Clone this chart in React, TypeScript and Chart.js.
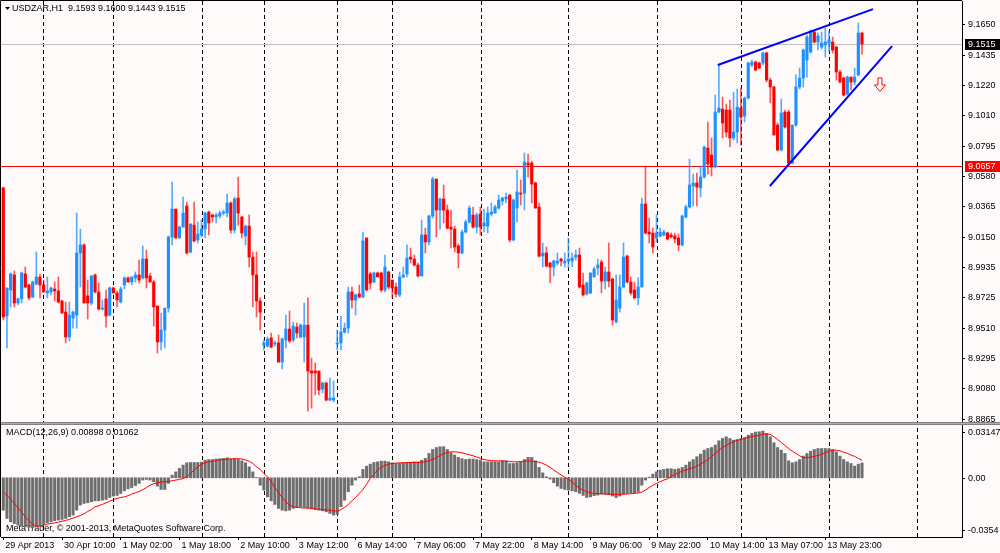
import React, { useEffect, useRef } from 'react'
import { Chart, registerables } from 'chart.js'

Chart.register(...registerables)

// H1 candles, USDZAR 29 Apr - 14 May 2013
const opens = [
  9.0499, 8.9595, 8.9779, 8.9885, 8.9687, 8.9716, 8.9892, 8.9814, 8.973, 8.9821,
  8.9871, 8.9814, 8.9758, 8.9765, 8.9786, 8.9772, 8.9701, 8.9623, 8.9447, 8.9581,
  8.9602, 9.004, 9.0097, 8.9737, 8.9687, 8.9885, 8.9765, 8.9644, 8.9716, 8.9602,
  8.9793, 8.9758, 8.9694, 8.9814, 8.9864, 8.9835, 8.9864, 8.9885, 8.9864, 8.9997,
  8.9878, 8.9835, 8.9666, 8.9412, 8.9496, 8.9651, 9.0153, 9.035, 9.0146, 9.0223,
  9.0372, 9.0047, 9.0237, 9.0132, 9.0167, 9.0209, 9.0329, 9.0308, 9.0294, 9.0301,
  9.0322, 9.0322, 9.0393, 9.0202, 9.0428, 9.0294, 9.016, 9.023, 9.0011, 8.9885,
  8.9701, 8.939, 8.9383, 8.944, 8.9398, 8.9405, 8.927, 8.9426, 8.9503, 8.9426,
  8.9517, 8.9447, 8.9447, 8.9531, 8.9207, 8.9207, 8.9207, 8.908, 8.9122, 8.9002,
  8.9002, 8.9398, 8.9405, 8.9482, 8.951, 8.9765, 8.9708, 8.9751, 8.973, 9.0146,
  8.9892, 8.9835, 8.9899, 8.9899, 8.9779, 8.9906, 8.9849, 8.98, 8.9744, 8.9871,
  8.9892, 9.0011, 8.9997, 8.9955, 8.9878, 9.0167, 9.0118, 9.0301, 9.0562, 9.0343,
  9.0421, 9.0343, 9.0223, 9.0209, 9.009, 9.004, 9.0188, 9.0259, 9.0308, 9.0223,
  9.0315, 9.023, 9.023, 9.0315, 9.0322, 9.0357, 9.0407, 9.0421, 9.0449, 9.0132,
  9.0357, 9.0463, 9.0463, 9.0675, 9.0675, 9.0534, 9.0365, 9.0018, 9.004, 8.9969,
  8.9941, 8.9969, 8.9997, 8.9969, 8.9983, 8.9983, 9.0011, 9.0026, 8.9814, 8.9751,
  8.9758, 8.9871, 8.9934, 8.9976, 8.9842, 8.9906, 8.9856, 8.9553, 8.9651, 8.98,
  9.0018, 8.9835, 8.9779, 8.9723, 8.98, 9.0386, 9.0188, 9.0181, 9.0146, 9.016,
  9.0167, 9.0181, 9.0167, 9.016, 9.0146, 9.0097, 9.0294, 9.0365, 9.0513, 9.0534,
  9.0499, 9.0576, 9.0781, 9.0732, 9.0647, 9.1035, 9.1056, 9.1049, 9.1049, 9.0852,
  9.0894, 9.1063, 9.1007, 9.1134, 9.1367, 9.1388, 9.1381, 9.1381, 9.1452, 9.1261,
  9.1212, 9.0943, 9.0767, 9.1035, 9.1035, 9.0675, 9.0943, 9.1212, 9.1275, 9.1402,
  9.1459, 9.16, 9.1529, 9.1494, 9.1508, 9.1522, 9.1529, 9.1494, 9.1318, 9.1275,
  9.1162, 9.1282, 9.1247, 9.1297, 9.1593,
]
const highs = [
  9.0506, 8.9793, 8.9899, 8.9913, 8.9723, 8.9906, 8.9941, 8.9821, 8.9842, 9.0047,
  8.9892, 8.9849, 8.9871, 8.98, 8.9835, 8.9871, 8.9708, 8.9694, 8.9694, 8.963,
  9.0322, 9.0209, 9.0104, 8.9849, 8.9878, 8.9892, 8.9828, 8.9708, 8.9779, 8.98,
  8.98, 8.9772, 8.98, 8.9871, 8.9871, 8.9871, 8.9906, 8.999, 9.009, 9.0061,
  8.9899, 8.9849, 8.9666, 8.9616, 8.9651, 9.016, 9.0541, 9.035, 9.023, 9.0435,
  9.04, 9.0245, 9.04, 9.0259, 9.0273, 9.0329, 9.0336, 9.0315, 9.0322, 9.0336,
  9.0343, 9.0456, 9.04, 9.0435, 9.0576, 9.0301, 9.0237, 9.0308, 9.0047, 9.0047,
  8.9723, 8.9426, 8.9447, 8.9475, 8.9419, 8.9461, 8.944, 8.9602, 8.963, 8.9553,
  8.9546, 8.9539, 8.9687, 8.9723, 8.9298, 8.9263, 8.9207, 8.9129, 8.9129, 8.9157,
  8.9136, 8.9496, 8.9595, 8.9546, 8.98, 8.98, 8.9751, 8.9814, 9.0188, 9.0146,
  8.9906, 8.9906, 8.9906, 8.9906, 9.0026, 8.9913, 8.9849, 8.9828, 8.9906, 8.9941,
  9.0097, 9.0075, 9.0026, 8.9969, 9.0273, 9.0216, 9.0308, 9.0576, 9.0562, 9.0428,
  9.052, 9.0379, 9.0343, 9.023, 9.0104, 9.0202, 9.0273, 9.0372, 9.0365, 9.0322,
  9.0365, 9.035, 9.0365, 9.0393, 9.0379, 9.0449, 9.0435, 9.0463, 9.0456, 9.0421,
  9.0626, 9.0555, 9.0746, 9.0739, 9.0689, 9.0541, 9.0393, 9.0111, 9.0082, 8.9976,
  8.999, 9.004, 9.0004, 9.004, 9.0146, 9.004, 9.0061, 9.0075, 8.9899, 8.9835,
  8.9899, 8.9941, 8.9997, 8.999, 8.9941, 9.0111, 8.9864, 8.9885, 8.9885, 9.0111,
  9.0026, 8.9871, 8.9835, 8.9864, 9.0428, 9.0647, 9.0287, 9.0216, 9.0308, 9.0216,
  9.0202, 9.0188, 9.0181, 9.0181, 9.0174, 9.0308, 9.0379, 9.0703, 9.0597, 9.0604,
  9.0654, 9.0795, 9.0965, 9.0852, 9.1155, 9.1367, 9.1141, 9.1092, 9.112, 9.1176,
  9.1198, 9.1205, 9.1141, 9.1388, 9.1402, 9.1395, 9.1388, 9.1459, 9.1459, 9.1275,
  9.1219, 9.0958, 9.1127, 9.1049, 9.1049, 9.0943, 9.1297, 9.1346, 9.148, 9.1579,
  9.1614, 9.1607, 9.1593, 9.16, 9.1628, 9.1607, 9.1565, 9.1501, 9.1332, 9.1282,
  9.1289, 9.1282, 9.1346, 9.1664, 9.16,
]
const lows = [
  8.9567, 8.937, 8.9659, 8.9659, 8.9673, 8.9687, 8.9793, 8.9708, 8.9723, 8.9814,
  8.9723, 8.9765, 8.9723, 8.9744, 8.9701, 8.9687, 8.9616, 8.9405, 8.9419, 8.951,
  8.951, 8.98, 8.9687, 8.9574, 8.9673, 8.9758, 8.9637, 8.9637, 8.9517, 8.9595,
  8.9758, 8.9659, 8.9687, 8.9786, 8.9835, 8.9814, 8.9835, 8.9828, 8.9856, 8.9793,
  8.9835, 8.9524, 8.9334, 8.9355, 8.937, 8.9623, 9.0097, 9.0146, 9.0146, 9.0223,
  9.0033, 9.004, 9.0118, 9.0111, 9.0153, 9.0146, 9.0167, 9.0259, 9.0252, 9.0287,
  9.0308, 9.0294, 9.0181, 9.0181, 9.0237, 9.0146, 9.0097, 8.9941, 8.9659, 8.9588,
  8.9496, 8.9355, 8.9376, 8.937, 8.9383, 8.927, 8.9221, 8.937, 8.9405, 8.9412,
  8.944, 8.944, 8.927, 8.8924, 8.8945, 8.9038, 8.9038, 8.9052, 8.8995, 8.8995,
  8.8988, 8.9355, 8.9355, 8.9475, 8.9475, 8.9651, 8.9602, 8.9723, 8.9723, 8.9772,
  8.9786, 8.9828, 8.9871, 8.9765, 8.9765, 8.9786, 8.9723, 8.973, 8.973, 8.9864,
  8.9871, 8.9969, 8.9948, 8.9871, 8.9878, 9.004, 9.0097, 9.0287, 9.0153, 9.0209,
  9.0252, 9.0209, 9.0075, 9.0047, 8.9934, 9.0033, 9.0181, 9.0252, 9.0216, 9.0181,
  9.0167, 9.0188, 9.0181, 9.0301, 9.0322, 9.035, 9.0379, 9.0393, 9.0118, 9.0125,
  9.0259, 9.0379, 9.0343, 9.0576, 9.0393, 9.0357, 9.0011, 8.9941, 8.9941, 8.9828,
  8.9878, 8.9955, 8.9948, 8.9941, 8.9934, 8.9941, 8.999, 8.9793, 8.9737, 8.9744,
  8.9751, 8.9871, 8.9885, 8.9758, 8.9786, 8.98, 8.9531, 8.9546, 8.9623, 8.9793,
  8.9828, 8.9744, 8.9716, 8.9673, 8.98, 9.0174, 9.0111, 9.004, 9.0118, 9.0153,
  9.016, 9.0132, 9.0146, 9.0111, 9.0054, 9.009, 9.0287, 9.0357, 9.0372, 9.0372,
  9.0435, 9.0569, 9.0597, 9.0583, 9.064, 9.1028, 9.0852, 9.0859, 9.0788, 9.0838,
  9.0817, 9.0802, 9.0965, 9.1127, 9.1353, 9.1325, 9.1339, 9.1367, 9.1247, 9.1099,
  9.0873, 9.076, 9.076, 9.0922, 9.0661, 9.0668, 9.0936, 9.1198, 9.1212, 9.1282,
  9.1452, 9.1522, 9.1473, 9.148, 9.1424, 9.1459, 9.1452, 9.1261, 9.124, 9.1148,
  9.1155, 9.1191, 9.1226, 9.1289, 9.1443,
]
const closes = [
  8.9588, 8.9793, 8.9892, 8.9687, 8.9716, 8.9899, 8.98, 8.9723, 8.9835, 8.9871,
  8.9814, 8.9765, 8.9772, 8.9793, 8.9772, 8.9694, 8.9616, 8.9447, 8.9602, 8.9623,
  9.004, 9.0097, 8.9687, 8.9687, 8.9878, 8.9765, 8.9644, 8.9651, 8.9595, 8.9793,
  8.9758, 8.9708, 8.9786, 8.9864, 8.9835, 8.9871, 8.9885, 8.9849, 8.9997, 8.9864,
  8.9835, 8.9659, 8.9412, 8.9496, 8.9651, 9.0153, 9.035, 9.0146, 9.0223, 9.0322,
  9.004, 9.0245, 9.0125, 9.0174, 9.0209, 9.0322, 9.0252, 9.0294, 9.0308, 9.0322,
  9.0329, 9.0393, 9.0202, 9.0421, 9.0322, 9.0181, 9.023, 9.0011, 8.9885, 8.9701,
  8.9623, 8.9405, 8.9433, 8.9376, 8.9405, 8.927, 8.9433, 8.9503, 8.9419, 8.9524,
  8.9475, 8.9531, 8.9531, 8.9207, 8.9193, 8.9193, 8.9073, 8.9122, 8.9002, 8.9016,
  8.9016, 8.9405, 8.9482, 8.951, 8.9765, 8.9708, 8.9744, 8.973, 9.0125, 8.9779,
  8.9828, 8.9899, 8.9871, 8.9779, 8.9941, 8.98, 8.9793, 8.9751, 8.9871, 8.9885,
  9.0004, 8.9997, 8.9955, 8.9878, 9.0167, 9.0118, 9.0301, 9.0562, 9.0343, 9.0421,
  9.0343, 9.0216, 9.0209, 9.0082, 9.004, 9.0188, 9.0259, 9.0357, 9.0223, 9.0308,
  9.0223, 9.0252, 9.0322, 9.0329, 9.0365, 9.0414, 9.0428, 9.0435, 9.0132, 9.0414,
  9.0471, 9.0456, 9.0682, 9.0661, 9.0527, 9.0357, 9.0018, 9.004, 8.9948, 8.9941,
  8.9983, 8.9983, 8.9983, 8.9983, 8.9997, 9.0004, 9.0026, 8.98, 8.9744, 8.9828,
  8.9899, 8.9927, 8.9955, 8.9842, 8.9906, 8.9842, 8.9567, 8.9708, 8.98, 9.0011,
  8.9835, 8.9758, 8.9723, 8.98, 9.0386, 9.0181, 9.0174, 9.0082, 9.0181, 9.0188,
  9.0188, 9.0139, 9.0153, 9.0139, 9.0097, 9.0301, 9.0365, 9.052, 9.0534, 9.0506,
  9.0576, 9.0788, 9.0668, 9.0647, 9.1035, 9.1063, 9.0958, 9.0894, 9.0852, 9.0894,
  9.107, 9.1, 9.1134, 9.1381, 9.1388, 9.1332, 9.1346, 9.1452, 9.1261, 9.1212,
  9.0873, 9.0767, 9.1028, 9.0929, 9.0675, 9.0943, 9.1212, 9.1275, 9.1473, 9.1565,
  9.1607, 9.1529, 9.1572, 9.1522, 9.1529, 9.1544, 9.1473, 9.1318, 9.1247, 9.1155,
  9.1282, 9.1247, 9.1282, 9.1593, 9.1515,
]

// MACD(12,26,9): histogram (main line) and signal
const macdHist = [
  -0.0197, -0.0247, -0.0268, -0.0278, -0.0288, -0.0294, -0.0298, -0.0302, -0.0304, -0.0298,
  -0.0294, -0.0282, -0.0274, -0.0268, -0.0261, -0.0257, -0.0253, -0.0247, -0.0237, -0.0227,
  -0.0197, -0.0166, -0.0156, -0.0152, -0.0146, -0.014, -0.014, -0.0136, -0.0132, -0.012,
  -0.0111, -0.0107, -0.0095, -0.0079, -0.0067, -0.0059, -0.0047, -0.0034, -0.0014, -0.001,
  -0.0014, -0.0024, -0.0051, -0.0071, -0.0071, -0.0034, 0.0016, 0.0036, 0.0057, 0.0077,
  0.0091, 0.0093, 0.0093, 0.0093, 0.0095, 0.0107, 0.0111, 0.0111, 0.0114, 0.0116,
  0.0118, 0.0122, 0.0116, 0.0116, 0.0111, 0.0103, 0.0091, 0.0067, 0.0036, 0.0002,
  -0.0045, -0.0075, -0.0116, -0.014, -0.0162, -0.0186, -0.0197, -0.0201, -0.0197, -0.0186,
  -0.018, -0.0176, -0.018, -0.0184, -0.0189, -0.0193, -0.0197, -0.0201, -0.0207, -0.0217,
  -0.0227, -0.0221, -0.0176, -0.0136, -0.0085, -0.0045, -0.0014, 0.0006, 0.0051, 0.0071,
  0.0083, 0.0093, 0.0097, 0.0101, 0.0101, 0.0097, 0.0091, 0.0087, 0.0087, 0.0091,
  0.0093, 0.0095, 0.0097, 0.0097, 0.0107, 0.0118, 0.0148, 0.0172, 0.0184, 0.0189,
  0.0189, 0.0172, 0.0152, 0.0138, 0.0124, 0.0116, 0.0111, 0.0114, 0.0114, 0.0111,
  0.0107, 0.0097, 0.0097, 0.0097, 0.0097, 0.0097, 0.0103, 0.0103, 0.0087, 0.0087,
  0.0091, 0.0097, 0.0111, 0.0124, 0.0124, 0.0103, 0.0063, 0.003, 0.0006, -0.0008,
  -0.003, -0.0051, -0.0065, -0.0071, -0.0075, -0.0079, -0.0085, -0.0095, -0.0107, -0.012,
  -0.0116, -0.0109, -0.0105, -0.0099, -0.0099, -0.0103, -0.0111, -0.012, -0.0111, -0.0099,
  -0.0095, -0.0091, -0.0091, -0.0087, -0.0045, -0.0014, 0.0004, 0.0022, 0.0036, 0.0047,
  0.0051, 0.0055, 0.0055, 0.0051, 0.0055, 0.0063, 0.0077, 0.0097, 0.0111, 0.0128,
  0.0144, 0.0168, 0.0178, 0.0184, 0.0199, 0.0225, 0.0239, 0.0249, 0.0239, 0.0229,
  0.0233, 0.0239, 0.0245, 0.0259, 0.027, 0.0278, 0.028, 0.0284, 0.027, 0.0249,
  0.0213, 0.0184, 0.0168, 0.0148, 0.0103, 0.0091, 0.0097, 0.0111, 0.0132, 0.0148,
  0.0162, 0.0172, 0.0178, 0.0178, 0.0178, 0.0178, 0.0172, 0.0158, 0.0132, 0.0111,
  0.0097, 0.0087, 0.0071, 0.0083, 0.00898,
]
const macdSignal = [
  -0.0085, -0.0107, -0.013, -0.0156, -0.0182, -0.0209, -0.0237, -0.0261, -0.0282, -0.0296,
  -0.0292, -0.0288, -0.0282, -0.0278, -0.0274, -0.027, -0.0264, -0.0259, -0.0253, -0.0245,
  -0.0237, -0.0229, -0.0219, -0.0205, -0.0193, -0.0176, -0.017, -0.0162, -0.0152, -0.0142,
  -0.0132, -0.0126, -0.012, -0.0116, -0.0109, -0.0099, -0.0091, -0.0083, -0.0073, -0.0059,
  -0.0045, -0.0036, -0.003, -0.0026, -0.0024, -0.0022, -0.0018, -0.0014, -0.001, -0.0004,
  0.0006, 0.0026, 0.0047, 0.0067, 0.0083, 0.0091, 0.0097, 0.0101, 0.0105, 0.0109,
  0.0111, 0.0114, 0.0114, 0.0116, 0.0116, 0.0114, 0.0109, 0.0101, 0.0087, 0.0067,
  0.0051, 0.0026, 0.0006, -0.0024, -0.0059, -0.0091, -0.012, -0.0146, -0.0166, -0.0176,
  -0.018, -0.0182, -0.0184, -0.0184, -0.0186, -0.0189, -0.0191, -0.0193, -0.0195, -0.0197,
  -0.0201, -0.0203, -0.0193, -0.018, -0.0162, -0.014, -0.012, -0.0095, -0.0071, -0.0039,
  -0.0004, 0.0022, 0.0047, 0.0063, 0.0075, 0.0083, 0.0087, 0.0089, 0.0091, 0.0091,
  0.0093, 0.0093, 0.0093, 0.0093, 0.0095, 0.0097, 0.0103, 0.0111, 0.0122, 0.0136,
  0.0148, 0.0154, 0.0158, 0.0158, 0.0156, 0.0152, 0.0146, 0.014, 0.0134, 0.0126,
  0.0118, 0.0111, 0.0107, 0.0105, 0.0103, 0.0103, 0.0103, 0.0101, 0.0099, 0.0097,
  0.0097, 0.0099, 0.0101, 0.0103, 0.0101, 0.0099, 0.0095, 0.0087, 0.0077, 0.0063,
  0.0047, 0.0032, 0.0018, 0.0004, -0.001, -0.0026, -0.0047, -0.0063, -0.0075, -0.0085,
  -0.0091, -0.0095, -0.0097, -0.0097, -0.0099, -0.0099, -0.0101, -0.0101, -0.0101, -0.0099,
  -0.0099, -0.0097, -0.0095, -0.0093, -0.0087, -0.0075, -0.0059, -0.0045, -0.0034, -0.0024,
  -0.0014, -0.0006, 0.0008, 0.002, 0.003, 0.0041, 0.0047, 0.0055, 0.0061, 0.0071,
  0.0083, 0.0097, 0.0111, 0.0128, 0.0148, 0.0168, 0.0184, 0.0197, 0.0209, 0.0219,
  0.0227, 0.0233, 0.0239, 0.0245, 0.0251, 0.0255, 0.0259, 0.0264, 0.0266, 0.0264,
  0.0249, 0.0233, 0.0215, 0.0197, 0.0178, 0.0162, 0.0148, 0.0134, 0.0122, 0.0122,
  0.0126, 0.013, 0.0136, 0.0142, 0.0152, 0.0162, 0.0168, 0.0168, 0.0164, 0.0156,
  0.0148, 0.0138, 0.013, 0.0118, 0.01062,
]

const timeLabels = [
  '29 Apr 2013', '30 Apr 10:00', '1 May 02:00', '1 May 18:00', '2 May 10:00',
  '3 May 12:00', '6 May 14:00', '7 May 06:00', '7 May 22:00', '8 May 14:00',
  '9 May 06:00', '9 May 22:00', '10 May 14:00', '13 May 07:00', '13 May 23:00',
]
const timeLabelBars = [0, 16, 32, 48, 64, 80, 96, 112, 128, 144, 160, 176, 192, 208, 224]
// vertical period separators (bar positions)
const gridBars = [10.9, 30, 54.1, 71, 91, 106, 130.1, 154, 178.1, 201.1, 225.1, 249.1]

const priceTicks = [
  9.165, 9.1435, 9.122, 9.101, 9.0795, 9.058, 9.0365, 9.015, 8.9935, 8.9725, 8.951, 8.9295,
  8.908, 8.8865,
]
const macdTicks = [0.03147, 0, -0.0354]
const macdTickText = ['0.03147', '0.00', '-0.0354']

const bidPrice = 9.1515
const levelPrice = 9.0657
const upperTrend = [
  { x: 194.7, y: 9.1367 },
  { x: 237.0, y: 9.1762 },
]
const lowerTrend = [
  { x: 208.9, y: 9.0513 },
  { x: 242.2, y: 9.1501 },
]
const arrowBar = 238.9
const arrowPrice = 9.1226

const FONT = 'Liberation Sans'
const BG = '#fffafa'
const BULL = '#1e90ff'
const BEAR = '#ff0000'

const App = () => {
  const chartRef = useRef<HTMLCanvasElement>(null)

  useEffect(() => {
    if (!chartRef.current) return
    const ctx = chartRef.current.getContext('2d')
    if (!ctx) return

    const isUp = opens.map((o, i) => closes[i] >= o)

    const mtPlugin = {
      id: 'mtPlugin',
      beforeDraw(chart: any) {
        const c = chart.ctx
        c.save()
        c.fillStyle = BG
        c.fillRect(0, 0, chart.width, chart.height)
        c.restore()
      },
      beforeDatasetsDraw(chart: any) {
        const c = chart.ctx
        const { chartArea: a, scales } = chart
        const x = scales.x
        const y = scales.y
        c.save()
        // dashed separators
        c.strokeStyle = '#000'
        c.lineWidth = 1
        c.setLineDash([4, 3])
        gridBars.forEach((b) => {
          const px = Math.round(x.getPixelForValue(b)) + 0.5
          c.beginPath()
          c.moveTo(px, a.top)
          c.lineTo(px, a.bottom)
          c.stroke()
        })
        c.setLineDash([])
        // bid line and level line
        const yb = Math.round(y.getPixelForValue(bidPrice)) + 0.5
        c.strokeStyle = '#c0c0c0'
        c.beginPath()
        c.moveTo(a.left, yb)
        c.lineTo(a.right, yb)
        c.stroke()
        const yl = Math.round(y.getPixelForValue(levelPrice)) + 0.5
        c.strokeStyle = '#ff0000'
        c.beginPath()
        c.moveTo(a.left, yl)
        c.lineTo(a.right, yl)
        c.stroke()
        // texts
        c.fillStyle = '#000'
        c.font = '9px "' + FONT + '"'
        c.textBaseline = 'middle'
        c.textAlign = 'left'
        c.beginPath()
        c.moveTo(5, 7)
        c.lineTo(10, 7)
        c.lineTo(7.5, 10)
        c.closePath()
        c.fill()
        c.fillText('USDZAR,H1  9.1593 9.1600 9.1443 9.1515', 12, 9)
        c.fillText('MACD(12,26,9) 0.00898 0.01062', 6, 433)
        c.fillText('MetaTrader, \u00a9 2001-2013, MetaQuotes Software Corp.', 6, 529)
        c.restore()
      },
      afterDraw(chart: any) {
        const c = chart.ctx
        const { chartArea: a, scales } = chart
        const x = scales.x
        const y = scales.y
        const y2 = scales.y2
        c.save()
        // pane separator
        c.fillStyle = '#808080'
        c.fillRect(0, 422, chart.width, 1)
        c.fillRect(0, 424, chart.width, 1)
        c.fillStyle = '#b0b0b0'
        c.fillRect(0, 423, chart.width, 1)
        // frame
        c.strokeStyle = '#000'
        c.lineWidth = 1
        c.beginPath()
        c.moveTo(0.5, a.bottom)
        c.lineTo(0.5, 0.5)
        c.lineTo(a.right, 0.5)
        c.stroke()
        // arrow
        const ax = x.getPixelForValue(arrowBar)
        const ay = y.getPixelForValue(arrowPrice)
        c.beginPath()
        c.moveTo(ax - 2, ay - 7)
        c.lineTo(ax + 2, ay - 7)
        c.lineTo(ax + 2, ay)
        c.lineTo(ax + 5.5, ay)
        c.lineTo(ax, ay + 6.5)
        c.lineTo(ax - 5.5, ay)
        c.lineTo(ax - 2, ay)
        c.closePath()
        c.fillStyle = BG
        c.fill()
        c.strokeStyle = '#ff0000'
        c.stroke()
        // price boxes
        c.font = '9px "' + FONT + '"'
        c.textBaseline = 'middle'
        c.textAlign = 'left'
        const box = (v: number, bg: string) => {
          const py = Math.round(y.getPixelForValue(v))
          c.fillStyle = bg
          c.fillRect(a.right + 3, py - 5, chart.width - a.right - 3, 11)
          c.fillStyle = '#fff'
          c.fillText(v.toFixed(4), a.right + 6, py + 0.5)
        }
        box(bidPrice, '#000')
        box(levelPrice, '#ff0000')
        // MACD scale labels
        c.fillStyle = '#000'
        macdTicks.forEach((v, i) => {
          let py = y2.getPixelForValue(v)
          if (i === 0) py += 6
          if (i === macdTicks.length - 1) py -= 6
          c.fillRect(a.right, Math.round(py), 3, 1)
          c.fillText(macdTickText[i], a.right + 6, py + 0.5)
        })
        c.restore()
      },
    }

    const chart = new Chart(ctx, {
      type: 'bar',
      data: {
        datasets: [
          {
            type: 'line',
            data: upperTrend,
            yAxisID: 'y',
            borderColor: '#0000ff',
            borderWidth: 2,
            pointRadius: 0,
            order: 0,
          },
          {
            type: 'line',
            data: lowerTrend,
            yAxisID: 'y',
            borderColor: '#0000ff',
            borderWidth: 2,
            pointRadius: 0,
            order: 0,
          },
          {
            type: 'line',
            data: macdSignal.map((v, i) => ({ x: i, y: v })),
            yAxisID: 'y2',
            borderColor: '#ff0000',
            borderWidth: 1,
            pointRadius: 0,
            tension: 0,
            order: 1,
          },
          {
            data: macdHist.map((v, i) => ({ x: i, y: v })),
            yAxisID: 'y2',
            backgroundColor: '#6e6e6e',
            barThickness: 2.4,
            grouped: false,
            order: 2,
          },
          {
            data: opens.map((o, i) => ({ x: i, y: [o, closes[i]] })),
            yAxisID: 'y',
            backgroundColor: isUp.map((u) => (u ? BULL : BEAR)),
            barThickness: 2.5,
            minBarLength: 1,
            grouped: false,
            order: 3,
          },
          {
            data: lows.map((l, i) => ({ x: i, y: [l, highs[i]] })),
            yAxisID: 'y',
            backgroundColor: isUp.map((u) =>
              u ? 'rgba(30, 144, 255, 0.75)' : 'rgba(255, 0, 0, 0.65)'
            ),
            barThickness: 1,
            grouped: false,
            order: 4,
          },
        ],
      },
      options: {
        responsive: false,
        devicePixelRatio: 1,
        animation: false,
        events: [],
        layout: { padding: { left: 1, top: 1, right: 0, bottom: 0 } },
        plugins: {
          legend: { display: false },
          tooltip: { enabled: false },
        },
        scales: {
          x: {
            type: 'linear',
            min: -0.627,
            max: 261.25,
            offset: false,
            grid: {
              offset: false,
              drawOnChartArea: false,
              drawTicks: true,
              tickLength: 3,
              color: '#000',
            },
            border: { display: true, color: '#000' },
            afterBuildTicks: (scale: any) => {
              scale.ticks = timeLabelBars.map((v) => ({ value: v }))
            },
            afterFit: (scale: any) => {
              scale.height = 16
              scale.paddingLeft = 0
              scale.paddingRight = 0
            },
            ticks: {
              autoSkip: false,
              maxRotation: 0,
              align: 'start',
              labelOffset: 2,
              padding: 0,
              color: '#000',
              font: { family: FONT, size: 9 },
              callback: (_v: any, i: number) => timeLabels[i],
            },
          },
          y: {
            type: 'linear',
            position: 'right',
            min: 8.8035,
            max: 9.1819,
            grid: {
              drawOnChartArea: false,
              drawTicks: true,
              tickLength: 3,
              color: '#000',
            },
            border: { display: true, color: '#000' },
            afterBuildTicks: (scale: any) => {
              scale.ticks = priceTicks.map((v) => ({ value: v }))
            },
            afterFit: (scale: any) => {
              scale.width = 38
              scale.paddingTop = 0
              scale.paddingBottom = 0
            },
            ticks: {
              padding: 3,
              color: '#000',
              font: { family: FONT, size: 9 },
              callback: (v: any) => Number(v).toFixed(4),
            },
          },
          y2: {
            type: 'linear',
            display: false,
            min: -0.036,
            max: 0.2899,
          },
        },
      },
      plugins: [mtPlugin],
    } as any)

    return () => {
      chart.destroy()
    }
  }, [])

  return (
    <div style={{ position: 'absolute', left: 0, top: 0, width: 1000, height: 553 }}>
      <canvas ref={chartRef} width={1000} height={553}></canvas>
    </div>
  )
}

export default App
